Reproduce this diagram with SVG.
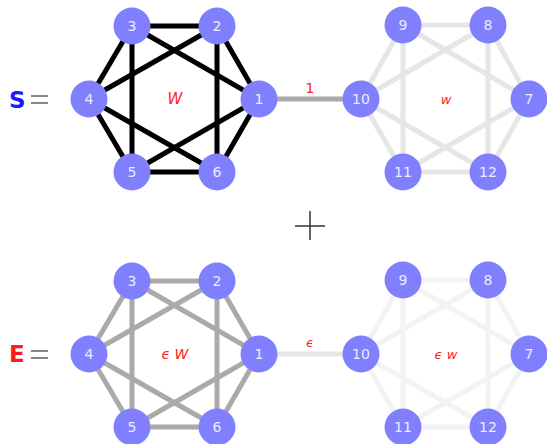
<svg xmlns="http://www.w3.org/2000/svg" width="547" height="444" viewBox="0 0 547 444">
<style>
.n circle{fill:#8080ff}
.n text{fill:#ececff;font-family:"DejaVu Sans",sans-serif;font-size:14px;text-anchor:middle;dominant-baseline:central}
.e line{stroke-width:5}
.k{stroke:#000}
.g{stroke:#aaaaaa}
.l{stroke:#e6e6e6}
.vl{stroke:#f3f3f3}
.red{fill:#ff2020;font-family:"DejaVu Sans",sans-serif;font-style:italic;text-anchor:middle;dominant-baseline:central}
.eq{font-family:"DejaVu Sans",sans-serif;font-size:23px;font-weight:bold;dominant-baseline:central}
</style>
<rect width="547" height="444" fill="#fff"/>
<g id="connectors" class="e">
<g class="k">
<line x1="132" y1="26" x2="217" y2="26"/><line x1="132" y1="26" x2="89" y2="99"/><line x1="132" y1="26" x2="132" y2="172"/><line x1="132" y1="26" x2="259" y2="99"/>
<line x1="217" y1="26" x2="89" y2="99"/><line x1="217" y1="26" x2="217" y2="172"/><line x1="217" y1="26" x2="259" y2="99"/>
<line x1="89" y1="99" x2="132" y2="172"/><line x1="89" y1="99" x2="217" y2="172"/><line x1="132" y1="172" x2="217" y2="172"/>
<line x1="132" y1="172" x2="259" y2="99"/><line x1="217" y1="172" x2="259" y2="99"/>
</g>
<g class="l">
<line x1="403" y1="25" x2="488" y2="25"/><line x1="403" y1="25" x2="361" y2="99"/><line x1="403" y1="25" x2="403" y2="172"/><line x1="403" y1="25" x2="529" y2="99"/>
<line x1="488" y1="25" x2="361" y2="99"/><line x1="488" y1="25" x2="488" y2="172"/><line x1="488" y1="25" x2="529" y2="99"/>
<line x1="361" y1="99" x2="403" y2="172"/><line x1="361" y1="99" x2="488" y2="172"/><line x1="403" y1="172" x2="488" y2="172"/>
<line x1="403" y1="172" x2="529" y2="99"/><line x1="488" y1="172" x2="529" y2="99"/>
</g>
<line class="g" x1="259" y1="99" x2="361" y2="99"/>
<g class="g">
<line x1="132" y1="281" x2="217" y2="281"/><line x1="132" y1="281" x2="89" y2="354"/><line x1="132" y1="281" x2="132" y2="427"/><line x1="132" y1="281" x2="259" y2="354"/>
<line x1="217" y1="281" x2="89" y2="354"/><line x1="217" y1="281" x2="217" y2="427"/><line x1="217" y1="281" x2="259" y2="354"/>
<line x1="89" y1="354" x2="132" y2="427"/><line x1="89" y1="354" x2="217" y2="427"/><line x1="132" y1="427" x2="217" y2="427"/>
<line x1="132" y1="427" x2="259" y2="354"/><line x1="217" y1="427" x2="259" y2="354"/>
</g>
<g class="vl">
<line x1="403" y1="280" x2="488" y2="280"/><line x1="403" y1="280" x2="361" y2="354"/><line x1="403" y1="280" x2="403" y2="427"/><line x1="403" y1="280" x2="529" y2="354"/>
<line x1="488" y1="280" x2="361" y2="354"/><line x1="488" y1="280" x2="488" y2="427"/><line x1="488" y1="280" x2="529" y2="354"/>
<line x1="361" y1="354" x2="403" y2="427"/><line x1="361" y1="354" x2="488" y2="427"/><line x1="403" y1="427" x2="488" y2="427"/>
<line x1="403" y1="427" x2="529" y2="354"/><line x1="488" y1="427" x2="529" y2="354"/>
</g>
<line class="l" x1="259" y1="354" x2="361" y2="354"/>
</g>
<g id="nodes-S">
<g id="s1" class="n"><circle cx="259" cy="99" r="18.5"/><text x="259" y="99">1</text></g>
<g id="s2" class="n"><circle cx="217" cy="26" r="18.5"/><text x="217" y="26">2</text></g>
<g id="s3" class="n"><circle cx="132" cy="26" r="18.5"/><text x="132" y="26">3</text></g>
<g id="s4" class="n"><circle cx="89" cy="99" r="18.5"/><text x="89" y="99">4</text></g>
<g id="s5" class="n"><circle cx="132" cy="172" r="18.5"/><text x="132" y="172">5</text></g>
<g id="s6" class="n"><circle cx="217" cy="172" r="18.5"/><text x="217" y="172">6</text></g>
<g id="s7" class="n"><circle cx="529" cy="99" r="18.5"/><text x="529" y="99">7</text></g>
<g id="s8" class="n"><circle cx="488" cy="25" r="18.5"/><text x="488" y="25">8</text></g>
<g id="s9" class="n"><circle cx="403" cy="25" r="18.5"/><text x="403" y="25">9</text></g>
<g id="s10" class="n"><circle cx="361" cy="99" r="18.5"/><text x="361" y="99">10</text></g>
<g id="s11" class="n"><circle cx="403" cy="172" r="18.5"/><text x="403" y="172">11</text></g>
<g id="s12" class="n"><circle cx="488" cy="172" r="18.5"/><text x="488" y="172">12</text></g>
</g>
<g id="nodes-E">
<g id="e1" class="n"><circle cx="259" cy="354" r="18.5"/><text x="259" y="354">1</text></g>
<g id="e2" class="n"><circle cx="217" cy="281" r="18.5"/><text x="217" y="281">2</text></g>
<g id="e3" class="n"><circle cx="132" cy="281" r="18.5"/><text x="132" y="281">3</text></g>
<g id="e4" class="n"><circle cx="89" cy="354" r="18.5"/><text x="89" y="354">4</text></g>
<g id="e5" class="n"><circle cx="132" cy="427" r="18.5"/><text x="132" y="427">5</text></g>
<g id="e6" class="n"><circle cx="217" cy="427" r="18.5"/><text x="217" y="427">6</text></g>
<g id="e7" class="n"><circle cx="529" cy="354" r="18.5"/><text x="529" y="354">7</text></g>
<g id="e8" class="n"><circle cx="488" cy="280" r="18.5"/><text x="488" y="280">8</text></g>
<g id="e9" class="n"><circle cx="403" cy="280" r="18.5"/><text x="403" y="280">9</text></g>
<g id="e10" class="n"><circle cx="361" cy="354" r="18.5"/><text x="361" y="354">10</text></g>
<g id="e11" class="n"><circle cx="403" cy="427" r="18.5"/><text x="403" y="427">11</text></g>
<g id="e12" class="n"><circle cx="488" cy="427" r="18.5"/><text x="488" y="427">12</text></g>
</g>
<g id="labels">
<text class="red" x="175" y="99" font-size="15">W</text>
<text class="red" x="446" y="99" font-size="13">w</text>
<text class="red" x="310" y="88" font-size="14" style="font-style:normal">1</text>
<text class="red" x="175" y="354" font-size="14">ϵ W</text>
<text class="red" x="446" y="354" font-size="13">ϵ w</text>
<text class="red" x="310" y="343" font-size="12">ϵ</text>
<text class="eq" x="9" y="100" fill="#1a1aff">S</text>
<text class="eq" x="9" y="354" fill="#ff1a1a">E</text>
<g stroke="#444" stroke-width="1.3"><line x1="31" y1="96" x2="48" y2="96"/><line x1="31" y1="103" x2="48" y2="103"/><line x1="31" y1="351" x2="48" y2="351"/><line x1="31" y1="358" x2="48" y2="358"/></g>
<g stroke="#333" stroke-width="1.5"><line x1="295" y1="226" x2="325" y2="226"/><line x1="310" y1="211" x2="310" y2="240"/></g>
</g>
</svg>
